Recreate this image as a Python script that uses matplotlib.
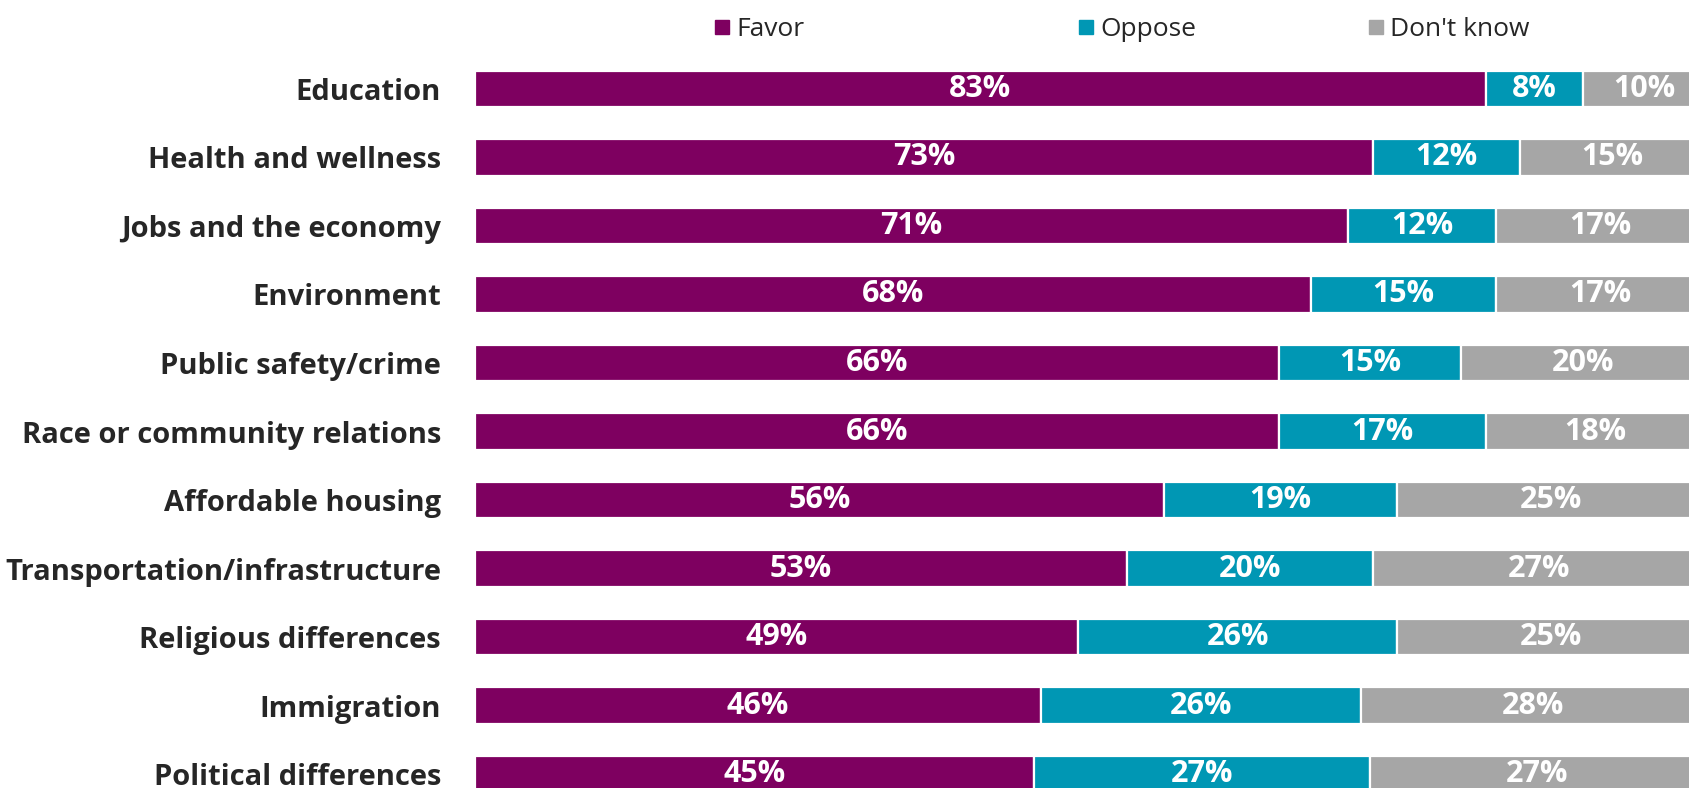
import matplotlib
matplotlib.use("Agg")
import matplotlib.pyplot as plt
from matplotlib.patches import Rectangle

categories = ["Education", "Health and wellness", "Jobs and the economy", "Environment",
              "Public safety/crime", "Race or community relations", "Affordable housing",
              "Transportation/infrastructure", "Religious differences", "Immigration",
              "Political differences"]
favor = [83, 73, 71, 68, 66, 66, 56, 53, 49, 46, 45]
oppose = [8, 12, 12, 15, 15, 17, 19, 20, 26, 26, 27]
dont_know = [10, 15, 17, 17, 20, 18, 25, 27, 25, 28, 27]
series_names = ["Favor", "Oppose", "Don't know"]
colors = ["#7E0060", "#0097B4", "#A6A6A6"]

W, H = 1690, 788
fig = plt.figure(figsize=(W / 100, H / 100), dpi=100)
# 100% stacked bar axis extends slightly past the right edge of the image (clipped)
ax = fig.add_axes([475 / W, 0, 1230 / W, (H - 55) / H])

ys = list(range(len(categories)))
series = [favor, oppose, dont_know]
totals = [a + b + c for a, b, c in zip(favor, oppose, dont_know)]
left = [0.0] * len(categories)
for vals, col, name in zip(series, colors, series_names):
    shares = [v / t * 100 for v, t in zip(vals, totals)]
    ax.barh(ys, shares, left=left, height=0.535, color=col, edgecolor="white",
            linewidth=1.6, label=name)
    for y, v, s, l in zip(ys, vals, shares, left):
        ax.text(l + s / 2, y, f"{v}%", ha="center", va="center", color="white",
                fontsize=22, fontweight="bold", family="Open Sans")
    left = [a + b for a, b in zip(left, shares)]

ax.set_xlim(0, 100)
ax.set_ylim(10.204, -0.496)
ax.set_yticks(ys)
ax.set_yticklabels(categories, fontsize=21, fontweight="bold", family="Open Sans",
                   color="#262626")
ax.tick_params(axis="y", length=0, pad=24.5)
ax.set_xticks([])
for s in ax.spines.values():
    s.set_visible(False)

# legend
leg_x = [722, 1086, 1376]
leg_y = 27
sq = 14
for x, col, name in zip(leg_x, colors, series_names):
    fig.patches.append(Rectangle(((x - sq / 2) / W, 1 - (leg_y + sq / 2) / H), sq / W, sq / H,
                                 transform=fig.transFigure, color=col, figure=fig))
    fig.text((x + 14) / W, 1 - 36 / H, name, ha="left", va="baseline", fontsize=19,
             family="Open Sans", color="#262626")

fig.savefig("out.png", dpi=100)
